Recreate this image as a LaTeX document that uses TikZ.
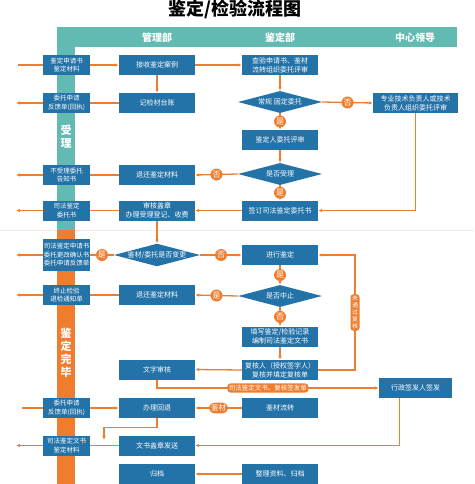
\documentclass[tikz,border=0pt]{standalone}
\usepackage{fontspec}
\setmainfont{Noto Sans CJK SC}
\usetikzlibrary{arrows.meta,positioning,shapes.geometric}
\definecolor{boxblue}{RGB}{35,114,168}
\definecolor{laneteal}{RGB}{99,186,178}
\definecolor{flowor}{RGB}{239,125,46}

\begin{document}
\begin{tikzpicture}[
    x=1pt, y=-1pt,
    box/.style={fill=boxblue, text=white, align=center, minimum height=20pt,
                minimum width=76pt, inner sep=1pt, font=\fontsize{7}{9}\selectfont},
    doc/.style={box, minimum width=47pt, inner sep=0.5pt,
                font=\fontsize{6.5}{8.5}\selectfont},
    decision/.style={diamond, fill=boxblue, text=white, aspect=3.8, inner sep=0pt,
                minimum width=84pt, minimum height=22pt, font=\fontsize{7}{9}\selectfont},
    flow/.style={draw=flowor, line width=1.3pt, -{Latex[length=4pt,width=3.5pt]}},
    link/.style={draw=flowor, line width=1.3pt},
    answer/.style={circle, fill=flowor, text=white, inner sep=0pt, minimum size=12pt,
                font=\fontsize{8}{8}\selectfont},
    flowtag/.style={fill=flowor, text=white, rounded corners=3pt, inner sep=1.5pt,
                align=center, font=\fontsize{6.5}{7.5}\selectfont},
    lane/.style={text=white, font=\fontsize{10}{10}\selectfont\bfseries},
    phaselabel/.style={text=white, align=center, font=\fontsize{11}{13}\selectfont\bfseries}
  ]
    \useasboundingbox (0,0) rectangle (474,484);
    \node[font=\fontsize{18}{18}\selectfont\bfseries] (title) at (235,9.5) {鉴定/检验流程图};

    \draw[gray!15, line width=0.8pt] (0,230) -- (474,230);
    \fill[laneteal] (57,27) rectangle (457,47);
    \fill[laneteal] (57,27) rectangle (75,230);
    \fill[flowor] (57,230) rectangle (75,484);
    \node[lane] (mgmtHead) at (157,37.5) {管理部};
    \node[lane] (apprHead) at (280,37.5) {鉴定部};
    \node[lane] (leadHead) at (415,37.5) {中心领导};
    \node[phaselabel] (intake) at (66,137) {受\\理};
    \node[phaselabel] (done) at (66,353) {鉴\\定\\完\\毕};

    \node[doc] (d1) at (66.5,65) {鉴定申请书\\鉴定材料};
    \node[doc] (d2) at (66.5,103) {委托申请\\反馈单(回执)};
    \node[doc] (d3) at (66.5,175) {不受理委托\\告知书};
    \node[doc] (d4) at (66.5,210.5) {司法鉴定\\委托书};
    \node[doc, minimum height=32pt] (d5) at (66.5,255) {司法鉴定申请书\\委托更改确认书\\委托申请反馈单};
    \node[doc] (d6) at (66.5,295) {终止检验\\退检通知单};
    \node[doc] (d7) at (66.5,408) {委托申请\\反馈单(回执)};
    \node[doc] (d8) at (66.5,445.5) {司法鉴定文书\\鉴定材料};

    \node[box] (mReceive) at (157,65) {接收鉴定案例};
    \node[box] (mLedger) at (157,103) {记检材台账};
    \node[box] (mReturnA) at (157,175) {退还鉴定材料};
    \node[box] (mRegister) at (157,210.5) {审核盖章\\办理受理登记、收费};
    \node[decision] (qChange) at (157,255) {鉴材/委托是否变更};
    \node[box] (mReturnB) at (157,295) {退还鉴定材料};
    \node[box] (mTextCheck) at (157,369.5) {文字审核};
    \node[box] (mRollback) at (157,408) {办理回退};
    \node[box] (mSend) at (157,445.5) {文书盖章发送};
    \node[box] (mArchive) at (157,474) {归档};

    \node[box] (aCheck) at (280,65) {查验申请书、鉴材\\流转组织委托评审};
    \node[decision] (qRoutine) at (280,102) {常规\ 固定委托};
    \node[box] (aReview) at (280,140) {鉴定人委托评审};
    \node[decision] (qAccept) at (280,174) {是否受理};
    \node[box] (aSign) at (280,210.5) {签订司法鉴定委托书};
    \node[box] (aPerform) at (280,255) {进行鉴定};
    \node[decision] (qStop) at (280,296) {是否中止};
    \node[box] (aRecord) at (280,336.5) {填写鉴定/检验记录\\编制司法鉴定文书};
    \node[box] (aVerify) at (280,370) {复核人（授权签字人）\\复核并填定复核单};
    \node[box] (aTransfer) at (280,408) {鉴材流转};
    \node[box] (aFile) at (280,474) {整理资料、归档};

    \node[box, minimum width=85pt] (lReview) at (415.5,103) {专业技术负责人或技术\\负责人组织委托评审};
    \node[box, minimum width=73pt] (lIssue) at (415.5,388) {行政签发人签发};

    \coordinate (in1) at (18,65);
    \coordinate (out2) at (16,103);
    \coordinate (out3) at (16,175);
    \coordinate (out4) at (16,210.5);
    \coordinate (out5) at (16,255);
    \coordinate (out6) at (16,295);
    \coordinate (in7) at (22,408);
    \coordinate (out8) at (16,445.5);
    \coordinate (recheck) at (355,255);
    \coordinate (drop) at (104,440);

    \draw[link] (in1) -- (d1.west);
    \draw[flow] (d1.east) -- (mReceive.west);
    \draw[flow] (mReceive.east) -- (aCheck.west);
    \draw[flow] (mReceive.south) -- (mLedger.north);
    \draw[link] (mLedger.west) -- (d2.east);
    \draw[flow] (d2.west) -- (out2);
    \draw[flow] (aCheck.south) -- (qRoutine.north);
    \draw[flow] (qRoutine.east) -- node[answer] {否} (lReview.west);
    \draw[flow] (qRoutine.south) -- node[answer] {是} (aReview.north);
    \draw[flow] (aReview.south) -- (qAccept.north);
    \draw[flow] (qAccept.west) -- node[answer] {否} (mReturnA.east);
    \draw[link] (mReturnA.west) -- (d3.east);
    \draw[flow] (d3.west) -- (out3);
    \draw[flow] (qAccept.south) -- node[answer] {是} (aSign.north);
    \draw[flow] (lReview.south) |- (aSign.east);
    \draw[flow] (aSign.west) -- (mRegister.east);
    \draw[link] (mRegister.west) -- (d4.east);
    \draw[flow] (d4.west) -- (out4);
    \draw[flow] (mRegister.south) -- (qChange.north);
    \draw[link] (qChange.west) -- node[answer] {是} (d5.east);
    \draw[flow] (d5.west) -- (out5);
    \draw[flow] (qChange.east) -- node[answer] {否} (aPerform.west);
    \draw[flow] (aPerform.south) -- node[answer] {是} (qStop.north);
    \draw[flow] (qStop.west) -- node[answer] {是} (mReturnB.east);
    \draw[link] (mReturnB.west) -- (d6.east);
    \draw[flow] (d6.west) -- (out6);
    \draw[flow] (qStop.south) -- node[answer] {否} (aRecord.north);
    \draw[flow] (aRecord.south) -- (aVerify.north);
    \draw[flow] (aVerify.east) -| node[pos=0.75, flowtag, font=\fontsize{6}{7}\selectfont]
      {未\\通\\过\\复\\核} (recheck) -- (aPerform.east);
    \draw[flow] (aVerify.west) -- (mTextCheck.east);
    \draw[flow] (mTextCheck.south) |- node[pos=0.75, flowtag] {司法鉴定文书、复核签发单} (lIssue.west);
    \draw[link] (in7) -- (d7.west);
    \draw[flow] (d7.east) -- (mRollback.west);
    \draw[flow] (aTransfer.west) -- node[flowtag, rounded corners=6pt, inner sep=2pt,
      font=\fontsize{7.5}{7.5}\selectfont] {鉴材} (mRollback.east);
    \draw[flow] (mRollback.south) -- ++(0,9.5) -| (drop);
    \draw[flow] ([xshift=-16pt]lIssue.south) |- (mSend.east);
    \draw[link] (mSend.west) -- (d8.east);
    \draw[flow] (d8.west) -- (out8);
    \draw[flow] (aFile.west) -- (mArchive.east);
  \end{tikzpicture}
\end{document}
